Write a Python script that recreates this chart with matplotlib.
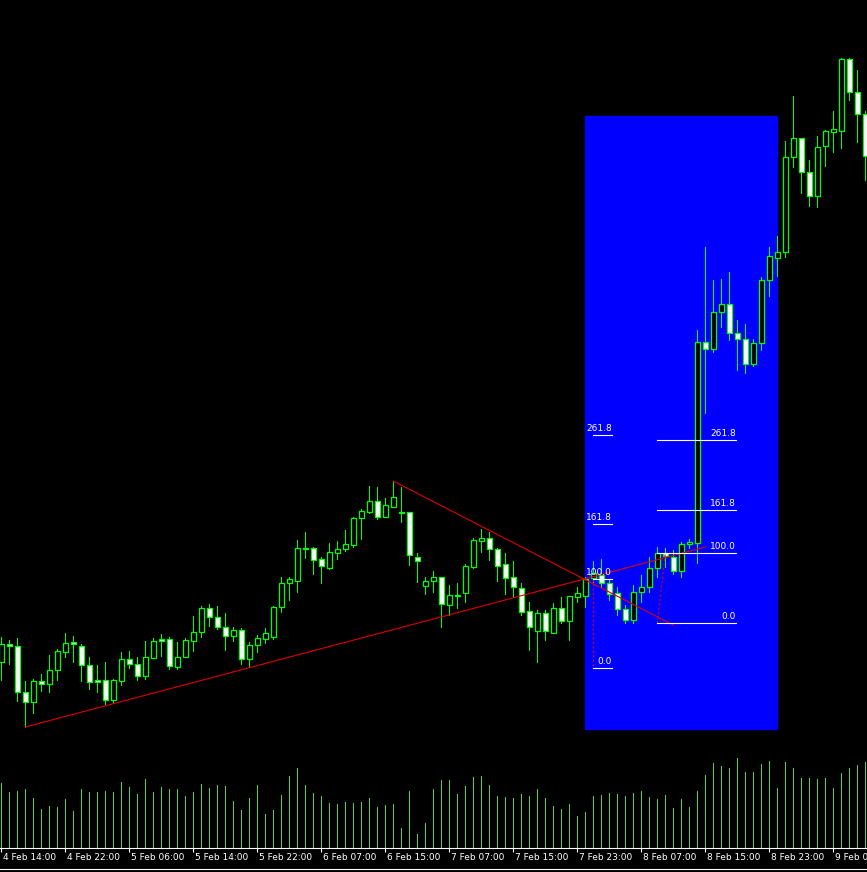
import numpy as np
import matplotlib.pyplot as plt
from matplotlib.patches import Rectangle
from matplotlib.lines import Line2D

# H1 candles, prices (smaller = higher)
opens = [662, 644, 646, 692, 702, 681, 684, 670, 652, 642,
         646, 665, 680, 680, 700, 681, 659, 664, 676, 658,
         639, 639, 667, 657, 641, 632, 608, 617, 627, 636,
         630, 659, 645, 639, 637, 607, 583, 581, 548, 548,
         559, 568, 553, 549, 545, 518, 512, 501, 517, 507,
         512, 512, 557, 586, 581, 577, 605, 595, 593, 567,
         541, 538, 549, 564, 577, 588, 611, 631, 613, 633,
         608, 621, 597, 596, 578, 575, 583, 593, 609, 620,
         592, 587, 568, 553, 557, 571, 544, 543, 342, 349,
         312, 304, 333, 339, 364, 343, 280, 258, 252, 157,
         138, 172, 196, 146, 132, 131, 59, 92, 114]
highs = [637, 640, 638, 681, 679, 674, 655, 649, 633, 636,
         644, 657, 665, 662, 679, 652, 651, 657, 641, 638,
         634, 637, 642, 638, 616, 606, 604, 606, 613, 627,
         628, 642, 635, 628, 606, 577, 577, 540, 532, 547,
         557, 543, 541, 530, 517, 509, 486, 487, 498, 481,
         487, 512, 553, 577, 571, 577, 585, 583, 564, 538,
         529, 532, 548, 553, 561, 583, 602, 610, 610, 603,
         597, 596, 587, 577, 561, 559, 580, 587, 605, 585,
         575, 557, 547, 548, 550, 542, 539, 330, 247, 280,
         279, 272, 320, 324, 339, 277, 247, 236, 141, 96,
         138, 160, 136, 130, 111, 58, 58, 70, 111]
lows = [680, 664, 701, 727, 713, 691, 692, 680, 657, 662,
        681, 689, 692, 704, 703, 685, 668, 680, 679, 658,
        656, 669, 669, 657, 651, 637, 626, 629, 650, 641,
        664, 667, 652, 643, 639, 612, 600, 592, 558, 574,
        583, 569, 559, 551, 547, 539, 513, 519, 517, 507,
        522, 565, 582, 594, 592, 627, 615, 608, 602, 568,
        552, 560, 581, 594, 597, 615, 650, 662, 640, 633,
        623, 640, 602, 607, 582, 587, 600, 615, 623, 623,
        602, 592, 577, 567, 574, 577, 548, 563, 413, 352,
        327, 340, 370, 373, 366, 350, 296, 276, 257, 167,
        193, 206, 207, 166, 152, 148, 100, 142, 180]
closes = [644, 646, 692, 702, 681, 684, 670, 651, 643, 644,
          665, 682, 682, 700, 680, 659, 664, 676, 657, 641,
          641, 666, 657, 640, 632, 608, 617, 627, 636, 630,
          659, 645, 638, 633, 607, 583, 579, 548, 549, 560,
          566, 552, 549, 544, 518, 511, 501, 517, 505, 497,
          512, 555, 561, 581, 577, 604, 595, 595, 566, 540,
          538, 549, 566, 578, 587, 612, 627, 613, 631, 608,
          621, 596, 593, 579, 573, 583, 594, 609, 620, 592,
          587, 568, 553, 556, 571, 544, 542, 342, 349, 312,
          304, 333, 339, 364, 343, 280, 256, 252, 157, 138,
          172, 196, 147, 131, 129, 59, 92, 114, 156]
volumes = [65, 56, 57, 59, 50, 39, 42, 41, 49, 37,
           59, 56, 56, 57, 56, 66, 61, 54, 69, 56,
           61, 59, 59, 52, 56, 64, 60, 63, 62, 47,
           38, 50, 63, 34, 38, 53, 72, 80, 63, 55,
           52, 45, 44, 46, 45, 46, 50, 41, 43, 44,
           20, 57, 14, 25, 59, 68, 68, 54, 62, 71,
           72, 63, 52, 51, 50, 54, 52, 59, 50, 42,
           39, 44, 32, 36, 52, 53, 55, 54, 52, 55,
           57, 51, 49, 53, 40, 49, 41, 57, 73, 85,
           82, 80, 90, 76, 76, 84, 87, 60, 86, 80,
           70, 70, 69, 70, 60, 75, 80, 83, 86]
time_labels = ["4 Feb 14:00", "4 Feb 22:00", "5 Feb 06:00", "5 Feb 14:00",
               "5 Feb 22:00", "6 Feb 07:00", "6 Feb 15:00", "7 Feb 07:00",
               "7 Feb 15:00", "7 Feb 23:00", "8 Feb 07:00", "8 Feb 15:00",
               "8 Feb 23:00", "9 Feb 07:00"]
label_bars = list(range(0, 8 * len(time_labels), 8))

# objects drawn on the chart
box_bars = (73, 97)
box_prices = (116, 729)
trend_lines = [((3, 727), (88, 547)), ((49, 481), (84, 625))]
fib_levels = [0.0, 100.0, 161.8, 261.8]
fibos = [  # (bar from, bar to, price at 0.0, price at 100.0)
    (73.9, 76.3, 668, 579),
    (82.0, 91.8, 623, 553),
]
fibo_links = [((74, 579), (74, 668)), ((82, 623), (83, 553))]

W, H = 867, 872
LIME = "#00FF00"
PX = 0.72  # one pixel in points at 100 dpi
x = np.arange(len(opens))
o, h, l, c = map(np.array, (opens, highs, lows, closes))

fig = plt.figure(figsize=(W / 100, H / 100), dpi=100, facecolor="black")
ax = fig.add_axes([0, (H - 752) / H, 1, 752 / H])
axv = fig.add_axes([0, (H - 848) / H, 1, 93 / H])

xlim = (-1.3 / 8, (W - 1.3) / 8)
for a in (ax, axv):
    a.set_facecolor("black")
    a.set_xlim(*xlim)
    for s in a.spines.values():
        s.set_visible(False)

# price window
ax.set_ylim(752, 0)
ax.set_xticks([])
ax.set_yticks([])

ax.add_patch(Rectangle((box_bars[0], box_prices[0]), box_bars[1] - box_bars[0],
                       box_prices[1] - box_prices[0], color="#0000FF", zorder=0))

ax.vlines(x, h, l, color=LIME, lw=PX, antialiased=False, zorder=2)
bull = c < o
body_lo = np.minimum(o, c)
body_h = np.maximum(np.abs(o - c), 0.8)
ax.bar(x, body_h, bottom=body_lo, width=0.6,
       color=np.where(bull, "black", "white"), edgecolor=LIME, lw=0.9, zorder=3)

for (x0, y0), (x1, y1) in trend_lines:
    ax.plot([x0, x1], [y0, y1], color="#E00000", lw=0.8, zorder=4)

for (x0, y0), (x1, y1) in fibo_links:
    ax.plot([x0, x1], [y0, y1], color="#E00000", lw=0.8, ls=(0, (2, 2)), zorder=4)

for b0, b1, p0, p100 in fibos:
    for lv in fib_levels:
        y = p0 - (p0 - p100) * lv / 100
        ax.plot([b0, b1], [y, y], color="white", lw=0.8, zorder=4)
        ax.annotate(f"{lv:.1f}", (b1, y), xytext=(0, 1.2), textcoords="offset points",
                    ha="right", va="bottom", color="white", fontsize=6.5, zorder=5)

# volume window
axv.set_ylim(0, 93)
axv.vlines(x, 0, volumes, color="#4CD34C", lw=PX, antialiased=False)
axv.set_yticks([])
axv.spines["bottom"].set_visible(True)
axv.spines["bottom"].set_color("white")
axv.spines["bottom"].set_linewidth(0.8)
axv.set_xticks(label_bars)
axv.tick_params(axis="x", direction="out", length=3, width=0.8, color="white",
                labelbottom=False)
for b, lab in zip(label_bars, time_labels):
    axv.annotate(lab, (b, 0), xycoords=("data", "axes fraction"), xytext=(1.2, -3.5),
                 textcoords="offset points", ha="left", va="top", color="white",
                 fontsize=6.5, annotation_clip=False)

fig.add_artist(Line2D([0, 1], [3 / H, 3 / H], transform=fig.transFigure,
                      color="white", lw=0.8))

fig.savefig("out.png", dpi=100, facecolor="black")
